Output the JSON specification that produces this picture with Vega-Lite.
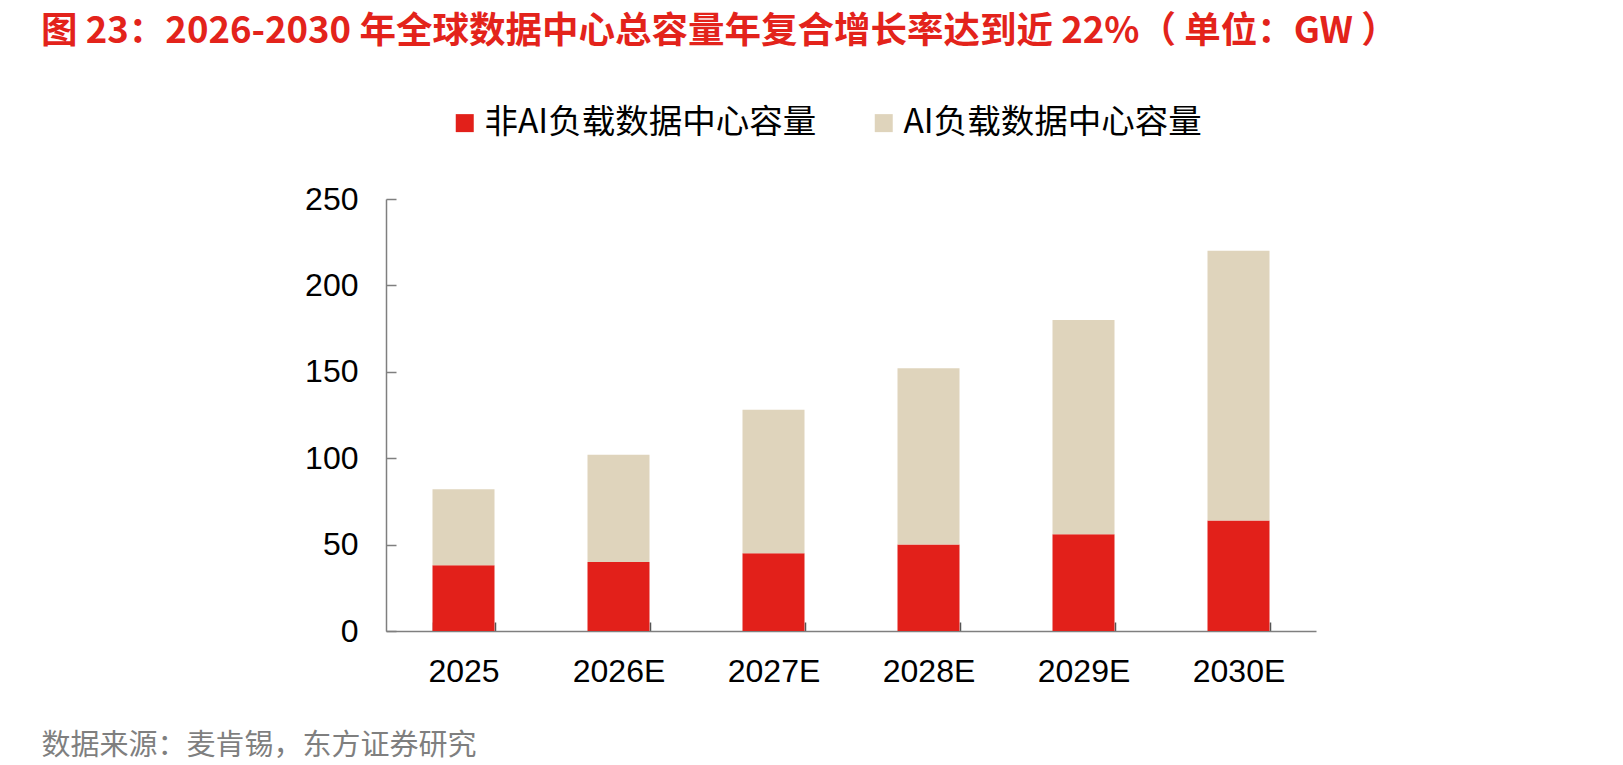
{
  "$schema": "https://vega.github.io/schema/vega-lite/v6.json",
  "autosize": {"type": "none"},
  "width": 930,
  "height": 432,
  "padding": {"left": 386, "top": 199, "right": 307, "bottom": 134},
  "background": "white",
  "title": {
    "text": "图 23：2026-2030 年全球数据中心总容量年复合增长率达到近 22%（ 单位：GW ）",
    "anchor": "start",
    "frame": "group",
    "dx": -345,
    "offset": 56,
    "font": "Noto Sans CJK SC",
    "fontSize": 36.5,
    "fontWeight": "bold",
    "color": "#e3231b"
  },
  "data": {
    "values": [
      {"year": "2025", "series": "非AI负载数据中心容量", "value": 38},
      {"year": "2025", "series": "AI负载数据中心容量", "value": 44},
      {"year": "2026E", "series": "非AI负载数据中心容量", "value": 40},
      {"year": "2026E", "series": "AI负载数据中心容量", "value": 62},
      {"year": "2027E", "series": "非AI负载数据中心容量", "value": 45},
      {"year": "2027E", "series": "AI负载数据中心容量", "value": 83},
      {"year": "2028E", "series": "非AI负载数据中心容量", "value": 50},
      {"year": "2028E", "series": "AI负载数据中心容量", "value": 102},
      {"year": "2029E", "series": "非AI负载数据中心容量", "value": 56},
      {"year": "2029E", "series": "AI负载数据中心容量", "value": 124},
      {"year": "2030E", "series": "非AI负载数据中心容量", "value": 64},
      {"year": "2030E", "series": "AI负载数据中心容量", "value": 156}
    ]
  },
  "mark": {"type": "bar"},
  "encoding": {
    "x": {
      "field": "year",
      "type": "nominal",
      "sort": null,
      "scale": {"paddingInner": 0.6, "paddingOuter": 0.3},
      "axis": {
        "title": "数据来源：麦肯锡，东方证券研究",
        "titleFont": "Noto Sans CJK SC",
        "titleFontSize": 29,
        "titleFontWeight": "normal",
        "titleColor": "#7f7f7f",
        "titleAnchor": "start",
        "titleAlign": "left",
        "titleBaseline": "middle",
        "titleX": -345,
        "titleY": 114,
        "labelAngle": 0,
        "labelFont": "Liberation Sans",
        "labelFontSize": 32,
        "labelColor": "black",
        "labelPadding": 34,
        "tickBand": "extent",
        "tickSize": -9,
        "tickColor": "#555555",
        "tickWidth": 1.5,
        "domainColor": "#7f7f7f",
        "domainWidth": 1.5
      }
    },
    "y": {
      "field": "value",
      "type": "quantitative",
      "stack": "zero",
      "scale": {"domain": [0, 250]},
      "axis": {
        "title": null,
        "values": [0, 50, 100, 150, 200, 250],
        "grid": false,
        "labelFont": "Liberation Sans",
        "labelFontSize": 32,
        "labelColor": "black",
        "labelPadding": 38,
        "tickSize": -10,
        "tickColor": "#7f7f7f",
        "tickWidth": 1.5,
        "domainColor": "#7f7f7f",
        "domainWidth": 1.5
      }
    },
    "color": {
      "field": "series",
      "type": "nominal",
      "scale": {
        "domain": ["非AI负载数据中心容量", "AI负载数据中心容量"],
        "range": ["#e2201a", "#dfd4bc"]
      },
      "legend": {
        "title": null,
        "orient": "none",
        "direction": "horizontal",
        "legendX": 62,
        "legendY": -93,
        "symbolType": "square",
        "symbolSize": 324,
        "symbolStrokeWidth": 0,
        "labelFont": "Noto Sans CJK SC",
        "labelFontSize": 33.5,
        "labelColor": "black",
        "labelOffset": 3,
        "columnPadding": 50,
        "labelLimit": 500
      }
    },
    "order": {"field": "series", "sort": "descending"}
  },
  "config": {
    "view": {"stroke": null}
  }
}
